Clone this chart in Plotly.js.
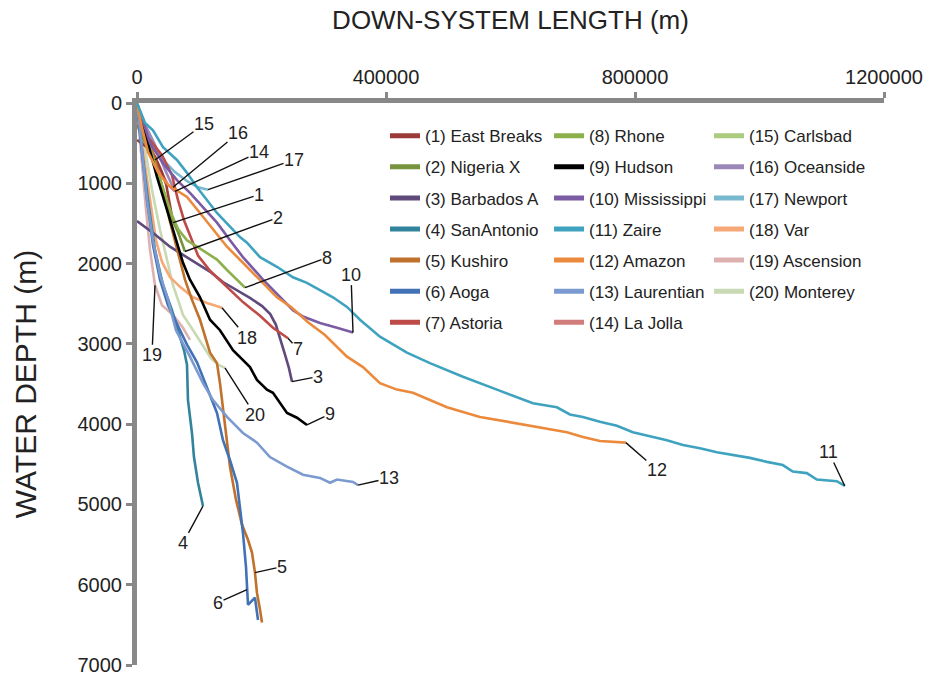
<!DOCTYPE html>
<html><head><meta charset="utf-8">
<script src="https://cdn.plot.ly/plotly-3.0.1.min.js"></script>
<style>html,body{margin:0;padding:0;background:#fff}#chart{width:937px;height:676px}</style>
</head><body><div id="chart"></div>
<script>
// ---------- DATA ----------
const seriesNames = ['(1) East Breaks','(2) Nigeria X','(3) Barbados A','(4) SanAntonio','(5) Kushiro','(6) Aoga','(7) Astoria',
  '(8) Rhone','(9) Hudson','(10) Mississippi','(11) Zaire','(12) Amazon','(13) Laurentian','(14) La Jolla',
  '(15) Carlsbad','(16) Oceanside','(17) Newport','(18) Var','(19) Ascension','(20) Monterey'];

const eastBreaksX = [0,16000,29000,40000,47000,51000,55000,58000];
const eastBreaksY = [460,550,670,860,1020,1210,1360,1490];
const nigeriaX_X = [0,9600,21000,32000,42000,50000,58000,66000,72000,77000];
const nigeriaX_Y = [270,440,650,830,1080,1330,1480,1610,1740,1850];
const barbadosX = [0,26000,53000,74000,96000,117000,138000,161000,182000,201000,214000,223000,231000,238000,244000,249000];
const barbadosY = [1470,1620,1790,1890,1990,2100,2230,2330,2430,2530,2630,2760,2950,3140,3300,3470];
const sanAntonioX = [1600,8000,17700,28900,41800,56200,65900,75500,80300,81900,88300,91500,98000,106000];
const sanAntonioY = [110,585,1210,1830,2270,2580,2830,3080,3260,3700,4110,4410,4730,5020];
const kushiroX = [0,12900,28900,41800,53000,64200,77100,88300,101200,117300,128500,133300,138100,144600,149400,159000,168600,178300,184700,189500,192700,197600,200800];
const kushiroY = [10,340,710,1080,1480,1830,2200,2450,2700,3110,3240,3490,3820,4200,4530,4940,5250,5440,5600,5850,6100,6310,6470];
const aogaX = [1600,8000,16100,25700,37000,49800,64200,80300,96400,112400,128500,138100,149400,160600,165400,170200,175100,176700,178300,189500,194400];
const aogaY = [150,585,1210,1770,2200,2520,2760,3010,3230,3540,3860,4200,4450,4730,5030,5350,5780,6060,6250,6160,6440];
const astoriaX = [1600,20900,40200,56200,65900,75500,85100,98000,117300,143000,170200,197600,218400,242600];
const astoriaY = [270,460,650,900,1210,1460,1640,1900,2090,2280,2480,2650,2800,2930];
const rhoneX = [1600,12900,24100,37000,48200,56200,65900,80300,96400,112400,128500,144600,160600,173500];
const rhoneY = [90,340,650,960,1210,1400,1570,1710,1790,1870,1950,2080,2200,2300];
const hudsonX = [1600,16100,32100,48200,61000,73900,85100,101200,117300,133300,154200,170200,181500,192700,208800,218400,229700,241000,257000,273000];
const hudsonY = [40,460,920,1330,1670,1990,2200,2420,2700,2830,3080,3200,3290,3450,3570,3610,3740,3860,3920,4010];
const mississippiX = [1600,20900,41800,64200,85100,106000,128500,149400,170200,202400,229700,250600,266700,293900,321200,347000];
const mississippiY = [40,500,750,960,1120,1300,1490,1710,1920,2200,2420,2580,2660,2740,2800,2860];
const zaireX = [0,12900,25700,41800,64200,80300,96400,112400,128500,149400,165400,176700,197600,224800,250500,273000,293900,314800,337300,358200,390300,433600,470600,523600,578200,636000,674500,695400,716300,743600,770900,796600,823900,851200,877000,904300,931500,957200,984500,1011800,1037500,1053500,1076000,1092100,1124200,1137000];
const zaireY = [0,250,340,550,710,870,1050,1210,1370,1540,1670,1740,1920,2040,2170,2240,2330,2420,2540,2700,2910,3110,3240,3410,3570,3740,3790,3880,3910,3970,4020,4100,4150,4200,4260,4300,4350,4380,4420,4470,4510,4590,4610,4690,4710,4770];
const amazonX = [0,8000,17700,33700,49800,80300,101200,122100,144500,170200,197600,224800,249000,274700,301900,337300,363000,390300,417600,443300,470600,497900,550900,603900,658500,690600,716300,743600,785300];
const amazonY = [10,310,610,860,1020,1170,1370,1580,1790,1990,2200,2420,2550,2730,2890,3160,3290,3490,3570,3610,3700,3790,3910,3980,4050,4100,4160,4210,4230];
const laurentianX = [1600,8000,16100,25700,37000,49800,62600,85100,106000,122100,144600,170200,192700,213600,240900,266700,293900,310000,321300,347000,355000];
const laurentianY = [90,590,1210,1710,2140,2450,2830,3160,3490,3700,3910,4110,4230,4410,4530,4630,4670,4730,4690,4720,4760];
const laJollaX = [1600,12900,24100,37000,49800,61000];
const laJollaY = [90,340,590,830,1020,1100];
const carlsbadX = [0,8000,17700,28900];
const carlsbadY = [10,270,500,710];
const oceansideX = [0,12900,28900,45000,57800];
const oceansideY = [10,270,520,830,1050];
const newportX = [1600,12900,25700,38500,61000,81900,98000,114100];
const newportY = [60,270,520,680,860,980,1050,1080];
const varX = [0,9600,20900,30500,40200,53000,69100,90000,112400,136500];
const varY = [90,590,1210,1710,1980,2170,2290,2420,2490,2550];
const ascensionX = [0,4800,9600,14500,20900,28900,40200,57800,73900,85100];
const ascensionY = [40,460,960,1330,1830,2270,2520,2640,2800,2950];
const montereyX = [1600,12900,24100,37000,48200,57800,65900,73900,86700,102800,118900,130100,141300];
const montereyY = [60,590,1080,1580,1960,2270,2450,2640,2790,2990,3180,3260,3300];

const xTickVals = [0,400000,800000,1200000];
const xTickText = ['0','400000','800000','1200000'];
const yTickVals = [0,1000,2000,3000,4000,5000,6000,7000];
const yTickText = ['0','1000','2000','3000','4000','5000','6000','7000'];

const labelTexts = ['1','2','3','4','5','6','7','8','9','10','11','12','13','14','15','16','17','18','19','20'];
// which point of each series the numbered label points at (-1 = last point)
const labelPointIndex = [-1,-1,-1,-1,19,17,-1,-1,-1,-1,-1,-1,-1,-1,-1,-1,-1,-1,5,-1];

// ---------- STYLE ----------
const seriesX = [eastBreaksX,nigeriaX_X,barbadosX,sanAntonioX,kushiroX,aogaX,astoriaX,rhoneX,hudsonX,mississippiX,zaireX,amazonX,laurentianX,laJollaX,carlsbadX,oceansideX,newportX,varX,ascensionX,montereyX];
const seriesY = [eastBreaksY,nigeriaX_Y,barbadosY,sanAntonioY,kushiroY,aogaY,astoriaY,rhoneY,hudsonY,mississippiY,zaireY,amazonY,laurentianY,laJollaY,carlsbadY,oceansideY,newportY,varY,ascensionY,montereyY];
const colors = ['#9B3A38','#77933C','#5F4A7B','#31849B','#C0712B','#4272B5','#BE4B48',
  '#8CB04A','#000000','#7B5BA4','#3FA3BF','#EB8A3C','#7B9ACF','#D07C7A',
  '#ABCB7E','#9C88B8','#79B9D0','#F6A876','#DCB1B0','#C8D9B3'];
const labelOffsets = [[86,-28],[93,-34],[26,-5],[-20,37],[27,-6],[-29,13],[10,11],[82,-30],[23,-11],[-2,-58],
  [-16,-34],[31,27],[31,-7],[84,-39],[49,-36],[65,-54],[86,-30],[25,30],[-3,70],[30,47]];

const FONT = 'Liberation Sans, Arial, Helvetica, sans-serif';
const traces = [];
const drawOrder = [19,18,17,16,15,14,13,0,1,2,3,4,5,6,7,8,9,12,11,10];
drawOrder.forEach(i => {
  traces.push({x: seriesX[i], y: seriesY[i], type:'scatter', mode:'lines', name: seriesNames[i],
    line:{color: colors[i], width:2.6}, showlegend:false, hoverinfo:'skip'});
});
// legend entries (three columns)
seriesNames.forEach((n,i) => {
  const col = i < 7 ? 'legend' : (i < 14 ? 'legend2' : 'legend3');
  traces.push({x:[null], y:[null], type:'scatter', mode:'lines', name:n,
    line:{color: colors[i], width:5}, showlegend:true, legend: col, legendgroup:'g'+i});
});

const annotations = labelTexts.map((t,i) => {
  const xs = seriesX[i], ys = seriesY[i];
  const k = labelPointIndex[i] < 0 ? xs.length-1 : labelPointIndex[i];
  return {x: xs[k], y: ys[k], xref:'x', yref:'y', text:t, showarrow:true, arrowhead:0,
    arrowwidth:1.4, arrowcolor:'#111', ax: labelOffsets[i][0], ay: labelOffsets[i][1], standoff:0,
    font:{size:18, color:'#222', family:FONT}, borderpad:0};
});

const legendBase = {y:0.973, yanchor:'top', xanchor:'left', bgcolor:'rgba(0,0,0,0)', borderwidth:0,
  font:{size:17, color:'#222', family:FONT}, traceorder:'grouped', tracegroupgap:6, itemwidth:30};

const layout = {
  width:937, height:676,
  margin:{l:137, r:53, t:103, b:11},
  paper_bgcolor:'#fff', plot_bgcolor:'#fff',
  font:{family:FONT, color:'#222'},
  showlegend:true,
  legend: Object.assign({}, legendBase, {x:0.332}),
  legend2: Object.assign({}, legendBase, {x:0.5516}),
  legend3: Object.assign({}, legendBase, {x:0.7657}),
  xaxis:{side:'top', range:[0,1200000], tickvals:xTickVals, ticktext:xTickText, showgrid:false, zeroline:false,
    showline:true, linecolor:'#888', linewidth:5, ticks:'outside', ticklen:6, tickwidth:3, tickcolor:'#888',
    tickfont:{size:20, color:'#222'}, title:{text:'DOWN-SYSTEM LENGTH (m)', font:{size:26, color:'#222'}, standoff:30}},
  yaxis:{range:[7000,0], tickvals:yTickVals, ticktext:yTickText, showgrid:false, zeroline:false,
    showline:true, linecolor:'#888', linewidth:5, ticks:'outside', ticklen:6, tickwidth:3, tickcolor:'#888',
    tickfont:{size:20, color:'#222'}, title:{text:'WATER DEPTH (m)', font:{size:30, color:'#222'}, standoff:34}},
  annotations: annotations
};
Plotly.newPlot('chart', traces, layout, {displayModeBar:false, staticPlot:true});
</script></body></html>
